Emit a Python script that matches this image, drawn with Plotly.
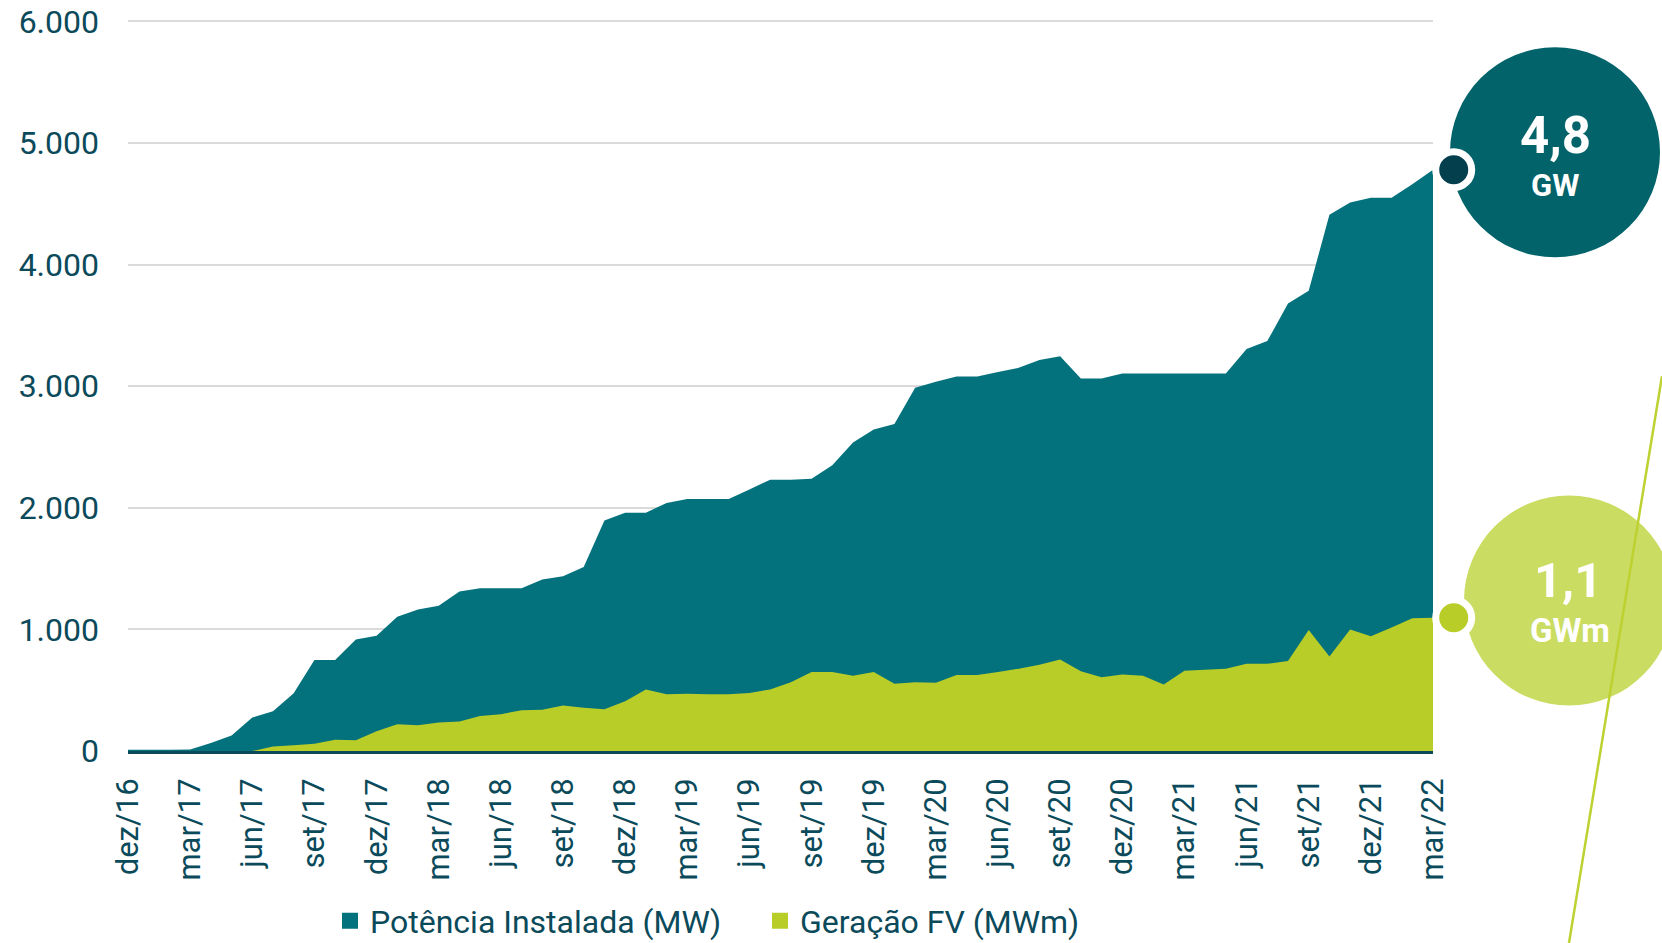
import plotly.graph_objects as go

# ---------------- data ----------------
months = [
    "dez/16",
    "jan/17", "fev/17", "mar/17", "abr/17", "mai/17", "jun/17", "jul/17", "ago/17", "set/17", "out/17", "nov/17", "dez/17",
    "jan/18", "fev/18", "mar/18", "abr/18", "mai/18", "jun/18", "jul/18", "ago/18", "set/18", "out/18", "nov/18", "dez/18",
    "jan/19", "fev/19", "mar/19", "abr/19", "mai/19", "jun/19", "jul/19", "ago/19", "set/19", "out/19", "nov/19", "dez/19",
    "jan/20", "fev/20", "mar/20", "abr/20", "mai/20", "jun/20", "jul/20", "ago/20", "set/20", "out/20", "nov/20", "dez/20",
    "jan/21", "fev/21", "mar/21", "abr/21", "mai/21", "jun/21", "jul/21", "ago/21", "set/21", "out/21", "nov/21", "dez/21",
    "jan/22", "fev/22", "mar/22",
]

potencia_mw = [
    10,
    10, 10, 12, 65, 127, 275, 327, 474, 749, 749, 916, 948,
    1104, 1163, 1195, 1311, 1339, 1339, 1339, 1410, 1438, 1514, 1896, 1960,
    1960, 2040, 2072, 2072, 2072, 2151, 2231, 2231, 2239, 2351, 2538, 2645,
    2689, 2988, 3036, 3080, 3080, 3116, 3151, 3215, 3247, 3064, 3064, 3104,
    3104, 3104, 3104, 3104, 3104, 3307, 3371, 3681, 3785, 4410, 4510, 4550,
    4550, 4661, 4781,
]

geracao_mwm = [
    0,
    0, 0, 0, 0, 0, 0, 36, 48, 60, 92, 88, 163,
    219, 211, 235, 243, 287, 303, 335, 339, 375, 355, 343, 410,
    506, 466, 470, 466, 466, 478, 506, 566, 649, 649, 618, 649,
    554, 566, 562, 625, 625, 649, 677, 709, 753, 655, 606, 629,
    618, 546, 661, 669, 677, 717, 717, 741, 996, 777, 1000, 944,
    1016, 1092, 1096,
]

y_ticks = [0, 1000, 2000, 3000, 4000, 5000, 6000]
series_names = ["Potência Instalada (MW)", "Geração FV (MWm)"]
bubble_values = ["4,8", "1,1"]
bubble_units = ["GW", "GWm"]

# ---------------- style ----------------
TEAL = "#04727D"
GREEN = "#B8CD27"
DARK = "#0B4A5A"
BUBBLE_TEAL = "#02636A"
BUBBLE_GREEN = "#CBDC62"
DOT_DARK = "#043F4D"
FONT = "Roboto"

W, H = 1662, 943
Y_MAX = 6020
L, R, B = 128, 1433, 751
T = 21 - (Y_MAX - 6000) * (730 / 6000)
X_MAX = len(months) - 1


def px_x(px):
    return (px - L) / (R - L)


def px_y(py):
    return (B - py) / (B - T)


x_idx = list(range(len(months)))
tick_idx = x_idx[::3]
tick_txt = months[::3]

fig = go.Figure()

fig.add_trace(go.Scatter(
    x=x_idx, y=potencia_mw, mode="none", fill="tozeroy",
    fillcolor=TEAL, showlegend=False, hoverinfo="skip",
))
fig.add_trace(go.Scatter(
    x=x_idx, y=geracao_mwm, mode="none", fill="tozeroy",
    fillcolor=GREEN, showlegend=False, hoverinfo="skip",
))

# legend entries (square swatches)
fig.add_trace(go.Scatter(
    x=[None], y=[None], mode="markers", name=series_names[0],
    marker=dict(symbol="square", size=16, color=TEAL),
))
fig.add_trace(go.Scatter(
    x=[None], y=[None], mode="markers", name=series_names[1],
    marker=dict(symbol="square", size=16, color=GREEN),
))

# end-point dot positions (one month after the last point, at the last values)
dot_x = (X_MAX + 1) / X_MAX
dot_specs = [(potencia_mw[-1] / Y_MAX, DOT_DARK), (geracao_mwm[-1] / Y_MAX, GREEN)]

shapes = [
    dict(type="circle", xref="paper", yref="paper", layer="below",
         xsizemode="pixel", ysizemode="pixel",
         xanchor=px_x(1555), yanchor=px_y(152),
         x0=-105, x1=105, y0=-105, y1=105,
         fillcolor=BUBBLE_TEAL, line=dict(width=0)),
    dict(type="circle", xref="paper", yref="paper", layer="below",
         xsizemode="pixel", ysizemode="pixel",
         xanchor=px_x(1569), yanchor=px_y(600.5),
         x0=-105, x1=105, y0=-105, y1=105,
         fillcolor=BUBBLE_GREEN, line=dict(width=0)),
    dict(type="line", xref="paper", yref="paper", layer="below",
         x0=px_x(1662), y0=px_y(376), x1=px_x(1569), y1=px_y(943),
         line=dict(color="#BDD130", width=2.5)),
]
for yv, col in dot_specs:
    shapes.append(dict(
        type="circle", xref="paper", yref="paper", layer="above",
        xsizemode="pixel", ysizemode="pixel",
        xanchor=dot_x, yanchor=yv,
        x0=-18, x1=18, y0=-18, y1=18,
        fillcolor=col, line=dict(color="white", width=7),
    ))

annotations = [
    dict(xref="paper", yref="paper", x=px_x(1555), y=px_y(135), text=f"<b>{bubble_values[0]}</b>",
         showarrow=False, xanchor="center", yanchor="middle",
         font=dict(family=FONT, size=51, color="white")),
    dict(xref="paper", yref="paper", x=px_x(1555), y=px_y(185), text=f"<b>{bubble_units[0]}</b>",
         showarrow=False, xanchor="center", yanchor="middle",
         font=dict(family=FONT, size=31, color="white")),
    dict(xref="paper", yref="paper", x=px_x(1568), y=px_y(580), text=f"<b>{bubble_values[1]}</b>",
         showarrow=False, xanchor="center", yanchor="middle",
         font=dict(family=FONT, size=49, color="white")),
    dict(xref="paper", yref="paper", x=px_x(1570), y=px_y(630), text=f"<b>{bubble_units[1]}</b>",
         showarrow=False, xanchor="center", yanchor="middle",
         font=dict(family=FONT, size=33, color="white")),
]

fig.update_layout(
    width=W, height=H,
    margin=dict(l=L, r=W - R, t=T, b=H - B, pad=0, autoexpand=False),
    paper_bgcolor="white", plot_bgcolor="white",
    separators=",.",
    font=dict(family=FONT, color=DARK),
    shapes=shapes, annotations=annotations,
    showlegend=True,
    legend=dict(
        orientation="h", x=px_x(330), xanchor="left", y=px_y(921), yanchor="middle",
        font=dict(family=FONT, size=32, color=DARK),
        entrywidth=385, entrywidthmode="pixels",
        bgcolor="rgba(0,0,0,0)", itemsizing="trace",
    ),
    xaxis=dict(
        range=[0, X_MAX], tickmode="array", tickvals=tick_idx, ticktext=tick_txt,
        tickangle=-90, tickfont=dict(family=FONT, size=31, color=DARK),
        showgrid=False, zeroline=False, showline=True, linecolor=DARK, linewidth=3,
        ticks="", ticklabelstandoff=12,
    ),
    yaxis=dict(
        range=[0, Y_MAX], tickmode="array", tickvals=y_ticks, tickformat=",.0f",
        tickfont=dict(family=FONT, size=32, color=DARK),
        showgrid=True, gridcolor="#DADADA", gridwidth=2, zeroline=False,
        showline=False, ticks="", ticklabelstandoff=28,
    ),
)

fig.write_html(
    "out.html",
    config={"displayModeBar": False},
    post_script="document.body.style.margin='0';document.body.style.overflow='hidden';",
)
